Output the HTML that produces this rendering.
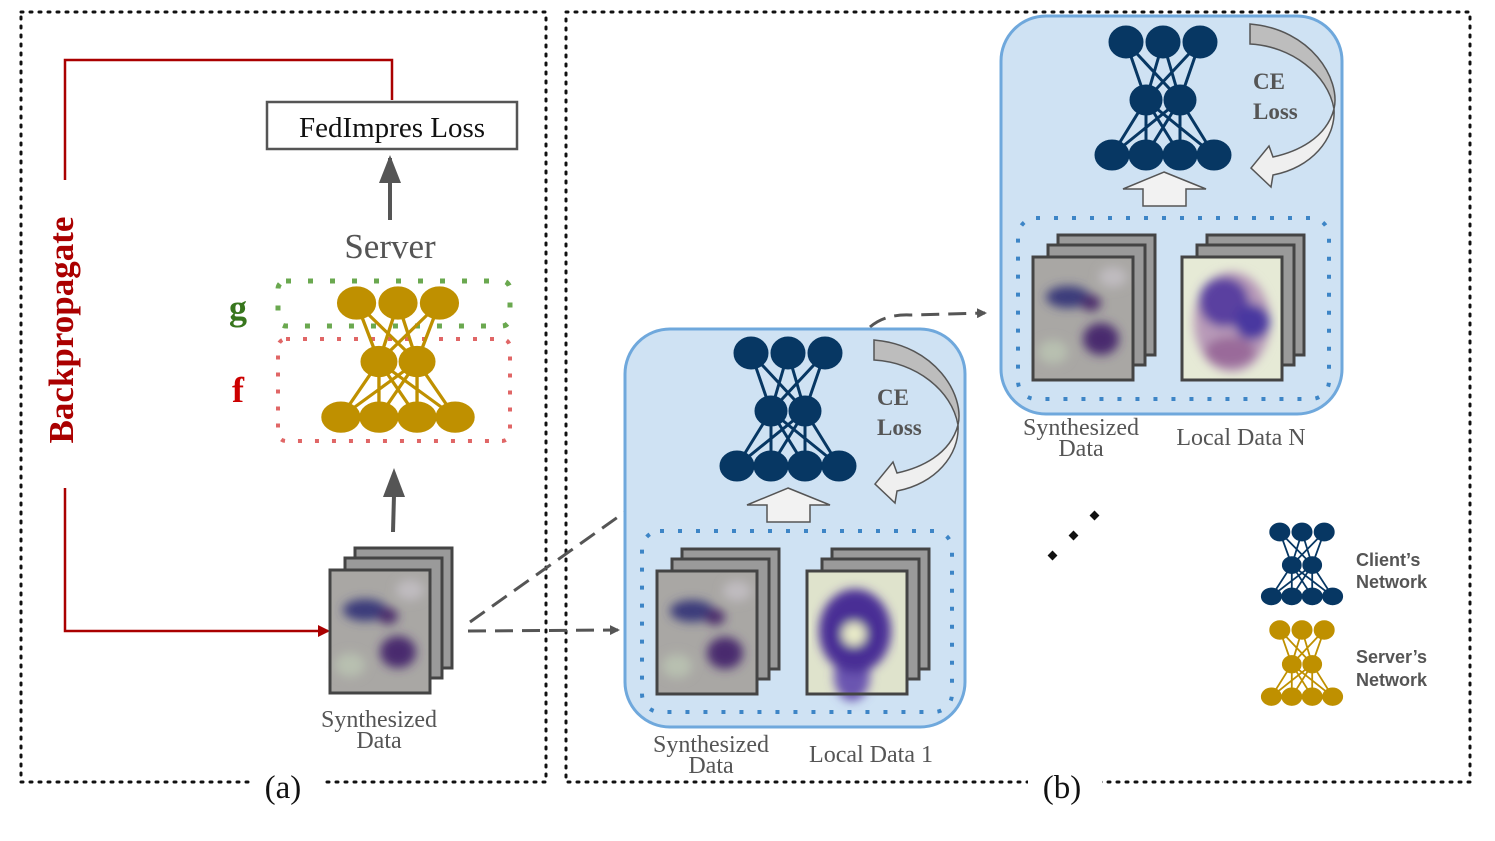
<!DOCTYPE html>
<html><head><meta charset="utf-8"><style>
html,body{margin:0;padding:0;background:#fff;width:1495px;height:841px;overflow:hidden}
svg text{font-family:"Liberation Serif",serif}
</style></head><body>
<svg width="1495" height="841" viewBox="0 0 1495 841" xmlns="http://www.w3.org/2000/svg">
<defs>
<g id="net">
 <g stroke-width="3" fill="none">
  <path d="M-37,0L-17,58M-37,0L17,58M0,0L-17,58M0,0L17,58M37,0L-17,58M37,0L17,58"/>
  <path d="M-17,58L-51,113M-17,58L-17,113M-17,58L17,113M-17,58L51,113M17,58L-51,113M17,58L-17,113M17,58L17,113M17,58L51,113"/>
 </g>
 <ellipse cx="-37" cy="0" rx="17" ry="16"/><ellipse cx="0" cy="0" rx="17" ry="16"/><ellipse cx="37" cy="0" rx="17" ry="16"/>
 <ellipse cx="-17" cy="58" rx="16" ry="15"/><ellipse cx="17" cy="58" rx="16" ry="15"/>
 <ellipse cx="-51" cy="113" rx="17" ry="15"/><ellipse cx="-17" cy="113" rx="17" ry="15"/><ellipse cx="17" cy="113" rx="17" ry="15"/><ellipse cx="51" cy="113" rx="17" ry="15"/>
</g>
<filter id="bl"><feGaussianBlur stdDeviation="5"/></filter>
<g id="frames">
 <rect x="25" y="-22" width="97" height="120" fill="#9a9a9a" stroke="#444" stroke-width="3"/>
 <rect x="15" y="-12" width="97" height="120" fill="#9a9a9a" stroke="#444" stroke-width="3"/>
</g>
<g id="synth">
 <use href="#frames"/>
 <rect x="0" y="0" width="100" height="123" fill="#a9a7a4"/>
 <g filter="url(#bl)">
  <ellipse cx="35" cy="40" rx="22" ry="11" fill="#3a3a7a"/>
  <ellipse cx="58" cy="46" rx="10" ry="8" fill="#4a2a6a"/>
  <ellipse cx="68" cy="82" rx="18" ry="16" fill="#4a2c6e"/>
  <ellipse cx="20" cy="95" rx="15" ry="12" fill="#b8c0b0"/>
  <ellipse cx="80" cy="20" rx="14" ry="10" fill="#c0bcc0"/>
 </g>
 <rect x="0" y="0" width="100" height="123" fill="none" stroke="#444" stroke-width="3"/>
</g>
<g id="loc1">
 <use href="#frames"/>
 <rect x="0" y="0" width="100" height="123" fill="#dfe3cc"/>
 <g filter="url(#bl)">
  <ellipse cx="45" cy="105" rx="18" ry="25" fill="#6a55b0"/>
  <ellipse cx="48" cy="60" rx="36" ry="42" fill="#4a2f95"/>
  <circle cx="47" cy="63" r="12" fill="#e8eac8"/>
 </g>
 <rect x="0" y="0" width="100" height="123" fill="none" stroke="#444" stroke-width="3"/>
</g>
<g id="locN">
 <use href="#frames"/>
 <rect x="0" y="0" width="100" height="123" fill="#e6ead6"/>
 <g filter="url(#bl)">
  <ellipse cx="50" cy="65" rx="38" ry="50" fill="#b89ab8"/>
  <ellipse cx="42" cy="45" rx="25" ry="25" fill="#5a40a0"/>
  <ellipse cx="70" cy="65" rx="18" ry="18" fill="#4a38a0"/>
  <ellipse cx="48" cy="95" rx="25" ry="15" fill="#9a6a9a"/>
 </g>
 <rect x="0" y="0" width="100" height="123" fill="none" stroke="#444" stroke-width="3"/>
</g>
<linearGradient id="cg" x1="0" y1="0" x2="0" y2="1"><stop offset="0.45" stop-color="#bdbdbd"/><stop offset="0.55" stop-color="#efefef"/></linearGradient>
<g id="ce">
 <path d="M874,340 C935,345 965,395 958,425 C950,455 920,468 897,473 L893,462 L875,484 L895,503 L897,491 C935,484 960,455 958,425 C952,390 915,362 874,360 Z" fill="url(#cg)" stroke="#555" stroke-width="1.5"/>
 <path d="M788,488 L830,505 L810,505 L810,522 L767,522 L767,505 L747,505 Z" fill="#f2f2f2" stroke="#555" stroke-width="1.5"/>
</g>
<marker id="ar" markerWidth="10" markerHeight="10" refX="8" refY="5" orient="auto" markerUnits="userSpaceOnUse"><path d="M0,0L10,5L0,10Z" fill="#555"/></marker>
<marker id="arr" markerWidth="12" markerHeight="12" refX="10" refY="6" orient="auto" markerUnits="userSpaceOnUse"><path d="M0,0L12,6L0,12Z" fill="#a00"/></marker>
</defs>

<rect x="21" y="12" width="525" height="770" fill="none" stroke="#111" stroke-width="3" stroke-dasharray="2,7" stroke-linecap="round"/>
<rect x="566" y="12" width="904" height="770" fill="none" stroke="#111" stroke-width="3" stroke-dasharray="2,7" stroke-linecap="round"/>
<rect x="250" y="770" width="74" height="30" fill="#fff"/>
<rect x="1028" y="770" width="74" height="30" fill="#fff"/>
<text x="283" y="798" font-size="33" text-anchor="middle" fill="#111">(a)</text>
<text x="1062" y="798" font-size="33" text-anchor="middle" fill="#111">(b)</text>

<path d="M65,180 L65,60 L392,60 L392,100" fill="none" stroke="#a00" stroke-width="2.5"/>
<path d="M65,488 L65,631 L328,631" fill="none" stroke="#a00" stroke-width="2.5" marker-end="url(#arr)"/>
<text transform="translate(73,330) rotate(-90)" font-size="35" font-weight="bold" fill="#a00" text-anchor="middle">Backpropagate</text>
<rect x="267" y="102" width="250" height="47" fill="#fff" stroke="#555" stroke-width="2.5"/>
<text x="392" y="137" font-size="29" text-anchor="middle" fill="#111">FedImpres Loss</text>
<line x1="390" y1="220" x2="390" y2="158" stroke="#555" stroke-width="4"/>
<path d="M379,183 L390,155 L401,183 Z" fill="#555"/>
<text x="390" y="258" font-size="35" text-anchor="middle" fill="#555">Server</text>
<rect x="278" y="281" width="232" height="45" rx="8" fill="none" stroke="#6aa84f" stroke-width="5" stroke-dasharray="5,17"/>
<rect x="278" y="339" width="232" height="102" rx="8" fill="none" stroke="#e06666" stroke-width="4" stroke-dasharray="4,13"/>
<text x="238" y="320" font-size="36" font-weight="bold" fill="#38761d" text-anchor="middle">g</text>
<text x="238" y="402" font-size="36" font-weight="bold" fill="#c00" text-anchor="middle">f</text>
<use href="#net" transform="translate(398,303) scale(1.12,1.01)" fill="#bf9000" stroke="#bf9000"/>
<line x1="393" y1="532" x2="394" y2="495" stroke="#555" stroke-width="4"/>
<path d="M383,497 L394,468 L405,497 Z" fill="#555"/>
<use href="#synth" transform="translate(330,570)"/>
<text x="379" y="727" font-size="24" text-anchor="middle" fill="#555">Synthesized</text>
<text x="379" y="748" font-size="24" text-anchor="middle" fill="#555">Data</text>

<line x1="470" y1="622" x2="625" y2="512" stroke="#555" stroke-width="3" stroke-dasharray="18,9"/>
<line x1="468" y1="631" x2="618" y2="630" stroke="#555" stroke-width="3" stroke-dasharray="18,9" marker-end="url(#ar)"/>
<path d="M870,327 Q885,314 910,315 L985,313" fill="none" stroke="#555" stroke-width="3" stroke-dasharray="18,9" marker-end="url(#ar)"/>

<rect x="625" y="329" width="340" height="398" rx="45" fill="#cfe2f3" stroke="#6fa8dc" stroke-width="3"/>
<rect x="642" y="531" width="310" height="181" rx="18" fill="none" stroke="#3d85c6" stroke-width="4" stroke-dasharray="4,14"/>
<use href="#net" transform="translate(788,353)" fill="#073763" stroke="#073763"/>
<use href="#ce"/>
<text x="877" y="405" font-size="23" font-weight="bold" fill="#555">CE</text>
<text x="877" y="435" font-size="23" font-weight="bold" fill="#555">Loss</text>
<use href="#synth" transform="translate(657,571)"/>
<use href="#loc1" transform="translate(807,571)"/>
<text x="711" y="752" font-size="24" text-anchor="middle" fill="#555">Synthesized</text>
<text x="711" y="773" font-size="24" text-anchor="middle" fill="#555">Data</text>
<text x="871" y="762" font-size="24" text-anchor="middle" fill="#555">Local Data 1</text>

<rect x="1001" y="16" width="341" height="398" rx="45" fill="#cfe2f3" stroke="#6fa8dc" stroke-width="3"/>
<rect x="1018" y="218" width="311" height="181" rx="18" fill="none" stroke="#3d85c6" stroke-width="4" stroke-dasharray="4,14"/>
<use href="#net" transform="translate(1163,42)" fill="#073763" stroke="#073763"/>
<use href="#ce" transform="translate(376,-316)"/>
<text x="1253" y="89" font-size="23" font-weight="bold" fill="#555">CE</text>
<text x="1253" y="119" font-size="23" font-weight="bold" fill="#555">Loss</text>
<use href="#synth" transform="translate(1033,257)"/>
<use href="#locN" transform="translate(1182,257)"/>
<text x="1081" y="435" font-size="24" text-anchor="middle" fill="#555">Synthesized</text>
<text x="1081" y="456" font-size="24" text-anchor="middle" fill="#555">Data</text>
<text x="1241" y="445" font-size="24" text-anchor="middle" fill="#555">Local Data N</text>

<rect x="1049" y="552" width="7" height="7" fill="#111" transform="rotate(45 1052.5 555.5)"/>
<rect x="1070" y="532" width="7" height="7" fill="#111" transform="rotate(45 1073.5 535.5)"/>
<rect x="1091" y="512" width="7" height="7" fill="#111" transform="rotate(45 1094.5 515.5)"/>

<use href="#net" transform="translate(1302,532) scale(0.6,0.57)" fill="#073763" stroke="#073763"/>
<use href="#net" transform="translate(1302,630) scale(0.6,0.59)" fill="#bf9000" stroke="#bf9000"/>
<g font-weight="bold" font-size="18" fill="#555">
<text x="1356" y="566" style="font-family:'Liberation Sans',sans-serif">Client’s</text>
<text x="1356" y="588" style="font-family:'Liberation Sans',sans-serif">Network</text>
<text x="1356" y="663" style="font-family:'Liberation Sans',sans-serif">Server’s</text>
<text x="1356" y="686" style="font-family:'Liberation Sans',sans-serif">Network</text>
</g>
</svg>
</body></html>
